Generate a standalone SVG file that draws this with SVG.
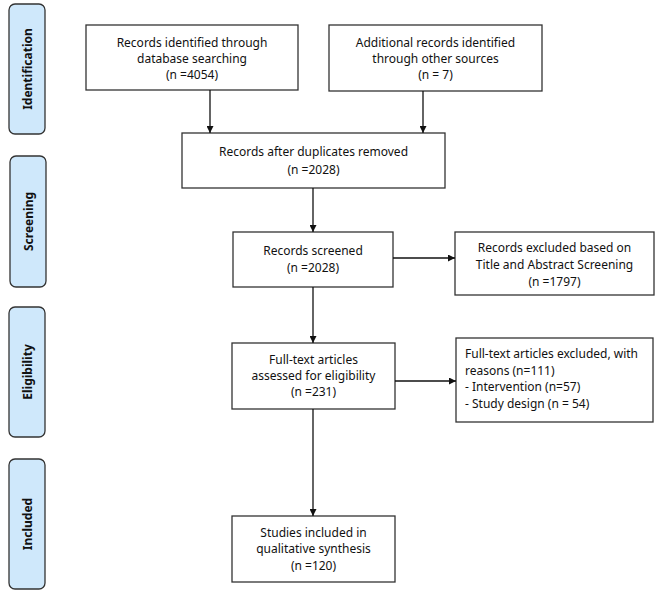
<svg xmlns="http://www.w3.org/2000/svg" width="656" height="597" viewBox="0 0 656 597">
<style>
.box{fill:#fff;stroke:#333;stroke-width:1.3}
.side{fill:#cfe8fb;stroke:#333;stroke-width:1.3}
text{font-family:"Noto Sans","Open Sans","Liberation Sans",sans-serif;font-size:12px;fill:#111}
.c{text-anchor:middle}
.st{font-weight:bold;text-anchor:middle}
.con{stroke:#111;stroke-width:1.3;fill:none;marker-end:url(#ah)}
</style>
<defs>
<marker id="ah" viewBox="0 0 10 10" refX="10" refY="5" markerWidth="7" markerHeight="7" markerUnits="userSpaceOnUse" orient="auto">
<path d="M0,0 L10,5 L0,10 z" fill="#111"/>
</marker>
</defs>
<rect width="656" height="597" fill="#fff"/>
<g id="side-identification"><rect class="side" x="9" y="4" width="36" height="130" rx="6"/><text class="st" transform="translate(32,69) rotate(-90)">Identification</text></g>
<g id="side-screening"><rect class="side" x="10" y="156" width="36" height="131" rx="6"/><text class="st" transform="translate(33,221.5) rotate(-90)">Screening</text></g>
<g id="side-eligibility"><rect class="side" x="9" y="307" width="36" height="130" rx="6"/><text class="st" transform="translate(32,372) rotate(-90)">Eligibility</text></g>
<g id="side-included"><rect class="side" x="9" y="459" width="36" height="130" rx="6"/><text class="st" transform="translate(32,524) rotate(-90)">Included</text></g>

<g id="n-db"><rect class="box" x="86" y="25" width="212" height="65"/>
<text class="c" x="192" y="47">Records identified through</text>
<text class="c" x="192" y="63">database searching</text>
<text class="c" x="192" y="79">(n =4054)</text></g>
<g id="n-other"><rect class="box" x="329" y="25" width="213" height="66"/>
<text class="c" x="435.5" y="47">Additional records identified</text>
<text class="c" x="435.5" y="63">through other sources</text>
<text class="c" x="435.5" y="79">(n = 7)</text></g>
<g id="n-dup"><rect class="box" x="182" y="133" width="263" height="55"/>
<text class="c" x="313.5" y="156">Records after duplicates removed</text>
<text class="c" x="313.5" y="174">(n =2028)</text></g>
<g id="n-screened"><rect class="box" x="233" y="232" width="160" height="55"/>
<text class="c" x="313" y="255">Records screened</text>
<text class="c" x="313" y="272">(n =2028)</text></g>
<g id="n-excl1"><rect class="box" x="455" y="232" width="199" height="63"/>
<text class="c" x="554.5" y="252">Records excluded based on</text>
<text class="c" x="554.5" y="269">Title and Abstract Screening</text>
<text class="c" x="554.5" y="285.5">(n =1797)</text></g>
<g id="n-excl2"><rect class="box" x="456" y="338" width="197" height="84"/>
<text x="465" y="358">Full-text articles excluded, with</text>
<text x="465" y="374.5">reasons (n=111)</text>
<text x="465" y="391">- Intervention (n=57)</text>
<text x="465" y="407.5">- Study design (n = 54)</text></g>
<g id="n-fulltext"><rect class="box" x="232" y="343" width="163" height="66"/>
<text class="c" x="313.5" y="364">Full-text articles</text>
<text class="c" x="313.5" y="380">assessed for eligibility</text>
<text class="c" x="313.5" y="396">(n =231)</text></g>
<g id="n-included"><rect class="box" x="232" y="516" width="163" height="66"/>
<text class="c" x="313.5" y="536.5">Studies included in</text>
<text class="c" x="313.5" y="553">qualitative synthesis</text>
<text class="c" x="313.5" y="569.5">(n =120)</text></g>

<g id="connectors">
<line class="con" x1="210" y1="90" x2="210" y2="133"/>
<line class="con" x1="423" y1="91" x2="423" y2="133"/>
<line class="con" x1="313" y1="188" x2="313" y2="232"/>
<line class="con" x1="393" y1="258" x2="455" y2="258"/>
<line class="con" x1="313" y1="287" x2="313" y2="343"/>
<line class="con" x1="395" y1="381" x2="456" y2="381"/>
<line class="con" x1="313" y1="409" x2="313" y2="516"/>
</g>
</svg>
